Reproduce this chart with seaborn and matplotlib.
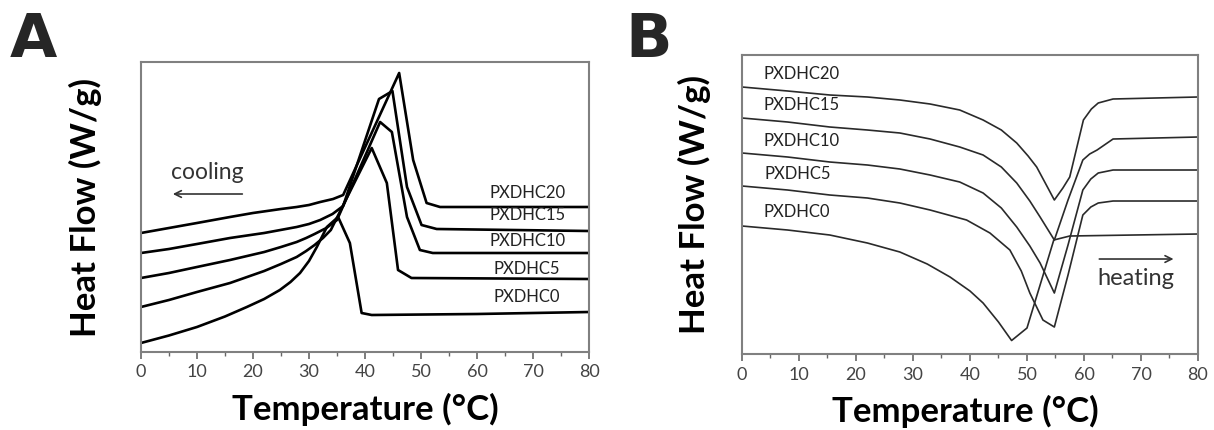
import pandas as pd
import seaborn as sns
import matplotlib.pyplot as plt

# Panel A: cooling scans (temperature in degC, heat flow in arbitrary units, curves offset)
a20_temp = [0, 5, 10, 15.9, 20, 25, 27.8, 30, 32, 34.3, 36.1, 46.1, 48.6, 51.0, 53.4, 80]
a20_flow = [1.19, 1.24, 1.29, 1.35, 1.39, 1.43, 1.45, 1.47, 1.50, 1.53, 1.57, 2.79, 1.92, 1.49, 1.45, 1.45]
a15_temp = [0, 5, 10, 15.9, 22, 27.8, 30, 32, 34.2, 36.1, 42.5, 44.9, 47.5, 50.1, 52.8, 80]
a15_flow = [0.99, 1.03, 1.08, 1.14, 1.19, 1.25, 1.28, 1.32, 1.38, 1.46, 2.53, 2.61, 1.65, 1.27, 1.23, 1.21]
a10_temp = [0, 5, 10, 15.9, 22, 25, 27.8, 29.5, 31, 33.1, 35, 42.7, 44.8, 47.5, 49.8, 52.1, 80]
a10_flow = [0.74, 0.79, 0.85, 0.92, 1.00, 1.05, 1.10, 1.14, 1.18, 1.24, 1.32, 2.30, 2.20, 1.35, 1.02, 0.99, 0.99]
a5_temp = [0, 5, 10, 15.9, 22, 25, 27.8, 29.5, 31, 32.5, 33.9, 41.2, 43.9, 45.9, 48.3, 80]
a5_flow = [0.45, 0.52, 0.60, 0.69, 0.81, 0.88, 0.95, 1.01, 1.07, 1.14, 1.22, 2.04, 1.69, 0.82, 0.74, 0.73]
a0_temp = [0, 5, 10, 15, 18.9, 22, 24.8, 26.7, 28.4, 30, 31.4, 33.2, 35.2, 37.3, 39.4, 41.2, 60, 80]
a0_flow = [0.09, 0.165, 0.25, 0.355, 0.45, 0.53, 0.62, 0.70, 0.79, 0.91, 1.05, 1.25, 1.35, 1.09, 0.39, 0.37, 0.38, 0.40]

# Panel B: heating scans
b20_temp = [0, 8, 15.4, 22, 27.7, 33, 38.2, 42.3, 45.5, 48.2, 50.2, 51.7, 53.3, 54.8,
            56.3, 57.5, 59.9, 61.3, 62.5, 65.1, 80]
b20_flow = [2.67, 2.63, 2.59, 2.57, 2.54, 2.50, 2.44, 2.34, 2.24, 2.11, 1.98, 1.87, 1.70, 1.54,
            1.66, 1.77, 2.34, 2.45, 2.51, 2.55, 2.57]
b15_temp = [0, 8, 15.4, 22, 27.7, 33, 38.2, 42.3, 45.5, 48.2, 50.5, 52.3, 54.8,
            57.2, 59.8, 61.0, 62.3, 65.1, 80]
b15_flow = [2.36, 2.32, 2.27, 2.24, 2.21, 2.15, 2.07, 1.99, 1.87, 1.71, 1.53, 1.37, 1.14,
            1.54, 1.94, 2.00, 2.04, 2.15, 2.17]
b10_temp = [0, 8, 15.4, 22, 27.7, 33, 38.2, 42.3, 45.5, 48.2, 50.5, 52.3, 54.8,
            57.2, 59.8, 61.2, 62.5, 65.1, 80]
b10_flow = [2.01, 1.97, 1.92, 1.89, 1.85, 1.79, 1.72, 1.61, 1.46, 1.27, 1.08, 0.91, 0.61,
            1.09, 1.64, 1.75, 1.81, 1.84, 1.84]
b5_temp = [0, 8, 15.4, 22, 27.7, 33, 39.4, 43.5, 47.0, 49.0, 50.5, 52.8, 54.8,
           57.2, 59.8, 61.2, 62.5, 65.1, 80]
b5_flow = [1.68, 1.64, 1.59, 1.56, 1.51, 1.44, 1.34, 1.21, 1.04, 0.83, 0.61, 0.34, 0.27,
           0.79, 1.39, 1.47, 1.51, 1.53, 1.53]
b0_temp = [0, 8, 15.4, 22, 27.7, 32.5, 36.5, 40, 42.3, 45, 47.3, 50.0, 52.3, 54.7, 57.5, 80]
b0_flow = [1.28, 1.24, 1.19, 1.11, 1.02, 0.90, 0.77, 0.63, 0.51, 0.32, 0.135, 0.26, 0.69, 1.14, 1.18, 1.20]

sample_names = ["PXDHC20", "PXDHC15", "PXDHC10", "PXDHC5", "PXDHC0"]
# label anchor positions (temperature, heat flow)
a_label_temp = [62.3, 62.3, 62.3, 62.9, 62.9]
a_label_flow = [1.59, 1.37, 1.11, 0.83, 0.55]
b_label_temp = [3.7, 3.7, 3.7, 3.9, 3.7]
b_label_flow = [2.80, 2.49, 2.13, 1.80, 1.42]

a_curves = [(a20_temp, a20_flow), (a15_temp, a15_flow), (a10_temp, a10_flow),
            (a5_temp, a5_flow), (a0_temp, a0_flow)]
b_curves = [(b20_temp, b20_flow), (b15_temp, b15_flow), (b10_temp, b10_flow),
            (b5_temp, b5_flow), (b0_temp, b0_flow)]

sns.set_theme(style="white")
plt.rcParams["font.family"] = ["Lato", "DejaVu Sans"]

fig = plt.figure(figsize=(12.14, 4.30), dpi=100)
ax_a = fig.add_axes([0.1161, 0.1814, 0.3691, 0.6744])
ax_b = fig.add_axes([0.6112, 0.1767, 0.3756, 0.6954])

# Plot curves
for name, (t, h) in zip(sample_names, a_curves):
    df = pd.DataFrame({"T": t, "H": h})
    sns.lineplot(data=df, x="T", y="H", ax=ax_a, color="black", lw=1.9,
                 sort=False, estimator=None)
for name, (t, h) in zip(sample_names, b_curves):
    df = pd.DataFrame({"T": t, "H": h})
    sns.lineplot(data=df, x="T", y="H", ax=ax_b, color="#2a2a2a", lw=1.2,
                 sort=False, estimator=None)

# Sample labels
for name, x, y in zip(sample_names, a_label_temp, a_label_flow):
    ax_a.text(x, y, name, fontsize=12, color="#222222", ha="left", va="center")
for name, x, y in zip(sample_names, b_label_temp, b_label_flow):
    ax_b.text(x, y, name, fontsize=12, color="#222222", ha="left", va="center")

# Direction arrows
ax_a.annotate("", xy=(5.2, 1.58), xytext=(18.6, 1.58),
              arrowprops=dict(arrowstyle="->", color="#333333", lw=1.2))
ax_a.text(11.9, 1.80, "cooling", fontsize=16.5, color="#333333", ha="center", va="center")
ax_b.annotate("", xy=(76.2, 0.95), xytext=(62.2, 0.95),
              arrowprops=dict(arrowstyle="->", color="#333333", lw=1.2))
ax_b.text(69.1, 0.76, "heating", fontsize=17, color="#333333", ha="center", va="center")

# Axes styling
for ax, ymax in [(ax_a, 2.90), (ax_b, 2.99)]:
    ax.set_xlim(0, 80)
    ax.set_ylim(0, ymax)
    ax.set_xticks(range(0, 81, 10))
    ax.xaxis.set_minor_locator(plt.MultipleLocator(5))
    ax.set_yticks([])
    ax.tick_params(axis="x", which="major", direction="out", length=5, width=1.2,
                   color="#666666", labelsize=13, labelcolor="#444444", pad=4, bottom=True)
    ax.tick_params(axis="x", which="minor", direction="out", length=3, width=1.0,
                   color="#666666", bottom=True)
    for sp in ax.spines.values():
        sp.set_color("#808080")
        sp.set_linewidth(1.5)
    ax.set_xlabel("Temperature (°C)", fontsize=25, fontweight="bold", color="black")
    ax.set_ylabel("Heat Flow (W/g)", fontsize=25, fontweight="bold", color="black")

ax_a.xaxis.set_label_coords(0.5, -0.14)
ax_a.yaxis.set_label_coords(-0.088, 0.5)
ax_b.xaxis.set_label_coords(0.49, -0.135)
ax_b.yaxis.set_label_coords(-0.068, 0.5)

# Panel letters
fig.text(0.008, 0.975, "A", fontsize=44, fontweight="bold", family="DejaVu Sans", va="top")
fig.text(0.515, 0.975, "B", fontsize=44, fontweight="bold", family="DejaVu Sans", va="top")

fig.savefig("out.png", dpi=100)
